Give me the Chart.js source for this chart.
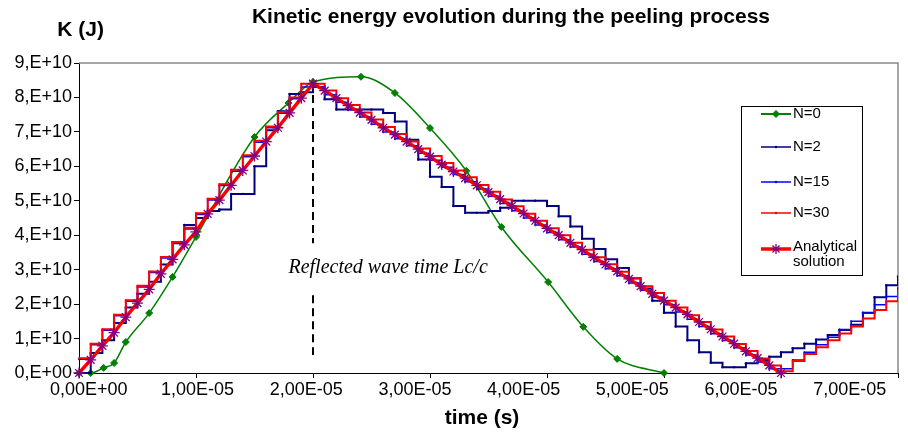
<!DOCTYPE html>
<html>
<head>
<meta charset="utf-8">
<script src="https://cdn.jsdelivr.net/npm/chart.js@4.4.1/dist/chart.umd.min.js"></script>
<style>
html,body{margin:0;padding:0;background:#fff;}
#wrap{width:908px;height:433px;position:relative;}
</style>
</head>
<body>
<div id="wrap"><canvas id="c" width="908" height="433"></canvas></div>
<script>
// ---- data (time in units of 1e-5 s, energy in units of 1e10 J) ----
const xTickValues = [0, 1, 2, 3, 4, 5, 6, 7];
const xTickLabels = ['0,00E+00', '1,00E-05', '2,00E-05', '3,00E-05', '4,00E-05', '5,00E-05', '6,00E-05', '7,00E-05'];
const yTickValues = [0, 1, 2, 3, 4, 5, 6, 7, 8, 9];
const yTickLabels = ['0,E+00', '1,E+10', '2,E+10', '3,E+10', '4,E+10', '5,E+10', '6,E+10', '7,E+10', '8,E+10', '9,E+10'];

const seriesNames = ['N=0', 'N=2', 'N=15', 'N=30', 'Analytical solution'];

// N=0 (smoothed, diamond markers)
const tN0 = [0, 0.1, 0.21, 0.3, 0.4, 0.6, 0.8, 1.0, 1.5, 1.79, 2.0, 2.41, 2.7, 3.0, 3.31, 3.61, 4.01, 4.31, 4.6, 5.0];
const kN0 = [0, 0, 0.15, 0.29, 0.9, 1.74, 2.79, 3.95, 6.85, 7.84, 8.45, 8.6, 8.13, 7.11, 5.87, 4.24, 2.64, 1.34, 0.41, 0];

// Stepped numerical results: level held from each time to the next
const tStep = [0, 0.1, 0.2, 0.3, 0.4, 0.5, 0.6, 0.7, 0.8, 0.9,
  1.0, 1.1, 1.2, 1.3, 1.4, 1.5, 1.6, 1.7, 1.8, 1.9,
  2.0, 2.1, 2.2, 2.3, 2.4, 2.5, 2.6, 2.7, 2.8, 2.9,
  3.0, 3.1, 3.2, 3.3, 3.4, 3.5, 3.6, 3.7, 3.8, 3.9,
  4.0, 4.1, 4.2, 4.3, 4.4, 4.5, 4.6, 4.7, 4.8, 4.9,
  5.0, 5.1, 5.2, 5.3, 5.4, 5.5, 5.6, 5.7, 5.8, 5.9,
  6.0, 6.1, 6.2, 6.3, 6.4, 6.5, 6.6, 6.7, 6.8, 6.9,
  7.0, 7.1];
const kN2 = [0, 0.58, 0.95, 1.45, 1.9, 2.3, 2.65, 3.15, 3.8, 4.3,
  4.5, 4.7, 4.75, 5.2, 5.2, 6.0, 7.05, 7.6, 8.1, 8.15,
  8.3, 7.95, 7.65, 7.65, 7.65, 7.65, 7.55, 7.3, 6.77, 6.2,
  5.7, 5.4, 4.85, 4.65, 4.65, 4.7, 4.8, 5.0, 5.0, 5.0,
  4.85, 4.55, 4.25, 3.9, 3.6, 3.3, 3.05, 2.75, 2.45, 2.1,
  1.75, 1.35, 0.95, 0.6, 0.3, 0.17, 0.17, 0.28, 0.38, 0.47,
  0.6, 0.72, 0.85, 0.97, 1.1, 1.25, 1.4, 1.75, 2.2, 2.55,
  2.8, 2.9];
const kN15 = [0.4, 0.82, 1.24, 1.66, 2.08, 2.5, 2.92, 3.34, 3.76, 4.18,
  4.6, 5.02, 5.44, 5.86, 6.28, 6.7, 7.12, 7.54, 7.96, 8.3,
  8.3, 8.08, 7.86, 7.64, 7.43, 7.22, 7.0, 6.8, 6.6, 6.38,
  6.18, 5.97, 5.76, 5.55, 5.34, 5.13, 4.92, 4.71, 4.5, 4.3,
  4.08, 3.87, 3.66, 3.45, 3.24, 3.03, 2.82, 2.61, 2.4, 2.2,
  1.98, 1.77, 1.56, 1.35, 1.14, 0.94, 0.73, 0.52, 0.32, 0.12,
  0.12, 0.38, 0.6, 0.82, 1.04, 1.26, 1.5, 1.74, 1.98, 2.22,
  2.47, 2.7];
const kN30 = [0.43, 0.85, 1.27, 1.69, 2.11, 2.53, 2.95, 3.37, 3.8, 4.22,
  4.64, 5.06, 5.48, 5.9, 6.32, 6.74, 7.16, 7.58, 8.0, 8.4,
  8.4, 8.2, 7.98, 7.78, 7.56, 7.36, 7.14, 6.94, 6.72, 6.52,
  6.3, 6.1, 5.88, 5.68, 5.46, 5.26, 5.04, 4.84, 4.62, 4.42,
  4.2, 4.0, 3.78, 3.58, 3.36, 3.16, 2.94, 2.74, 2.52, 2.32,
  2.1, 1.9, 1.68, 1.48, 1.26, 1.06, 0.84, 0.64, 0.42, 0.22,
  0.05, 0.35, 0.55, 0.75, 0.95, 1.15, 1.35, 1.58, 1.83, 2.08,
  2.35, 2.55];

// Analytical solution (asterisk markers)
const tAnalytic = [0, 0.1, 0.2, 0.3, 0.4, 0.5, 0.6, 0.7, 0.8, 0.9,
  1.0, 1.1, 1.2, 1.3, 1.4, 1.5, 1.6, 1.7, 1.8, 1.9,
  2.0, 2.1, 2.2, 2.3, 2.4, 2.5, 2.6, 2.7, 2.8, 2.9,
  3.0, 3.1, 3.2, 3.3, 3.4, 3.5, 3.6, 3.7, 3.8, 3.9,
  4.0, 4.1, 4.2, 4.3, 4.4, 4.5, 4.6, 4.7, 4.8, 4.9,
  5.0, 5.1, 5.2, 5.3, 5.4, 5.5, 5.6, 5.7, 5.8, 5.9,
  6.0];
const kAnalytic = [0, 0.38, 0.79, 1.17, 1.62, 2.03, 2.43, 2.88, 3.3, 3.72,
  4.1, 4.62, 5.02, 5.45, 5.88, 6.3, 6.72, 7.12, 7.55, 7.98,
  8.4, 8.2, 7.98, 7.76, 7.56, 7.35, 7.12, 6.92, 6.72, 6.5,
  6.28, 6.05, 5.85, 5.66, 5.45, 5.25, 5.05, 4.85, 4.63, 4.42,
  4.2, 4.0, 3.78, 3.58, 3.36, 3.15, 2.95, 2.73, 2.52, 2.3,
  2.1, 1.9, 1.7, 1.48, 1.27, 1.06, 0.85, 0.63, 0.43, 0.22,
  0];

// annotation (reflected wave time)
const reflectT = 2.0;
const reflectDashK = [[8.07, 3.77], [2.26, 0.52]];
const reflectText = 'Reflected wave time Lc/c';
const reflectTextT = 1.79;
const reflectTextK = 3.05;

const chartTitle = 'Kinetic energy evolution during the peeling process';
const yTitle = 'K (J)';
const xTitle = 'time (s)';

// ---- build ----
const pts = (ts, ks) => ts.map((t, i) => ({ x: t, y: ks[i] }));
const SANS = '"Liberation Sans", Arial, sans-serif';
const clipBox = { left: 10, top: 10, right: 0, bottom: 10 };

const colors = ['#008000', '#000080', '#0000FF', '#FF0000', '#FF0000'];

const datasets = [
  { label: seriesNames[0], data: pts(tN0, kN0), borderColor: colors[0], backgroundColor: colors[0],
    borderWidth: 1.5, cubicInterpolationMode: 'monotone', pointStyle: 'rectRot', pointRadius: 3.5,
    pointBorderWidth: 1, order: 4, clip: clipBox },
  { label: seriesNames[1], data: pts(tStep, kN2), borderColor: colors[1], backgroundColor: colors[1],
    borderWidth: 2, stepped: true, pointStyle: 'circle', pointRadius: 1.2, pointBorderWidth: 0, order: 3, clip: clipBox },
  { label: seriesNames[2], data: pts(tStep, kN15), borderColor: colors[2], backgroundColor: colors[2],
    borderWidth: 1.5, stepped: true, pointStyle: 'circle', pointRadius: 1, pointBorderWidth: 0, order: 2, clip: clipBox },
  { label: seriesNames[3], data: pts(tStep, kN30), borderColor: colors[3], backgroundColor: colors[3],
    borderWidth: 2, stepped: true, pointStyle: 'circle', pointRadius: 1, pointBorderWidth: 0, order: 1, clip: clipBox },
  { label: seriesNames[4], data: pts(tAnalytic, kAnalytic), borderColor: colors[4], backgroundColor: '#800080',
    borderWidth: 3.5, pointStyle: 'star', pointRadius: 5.5, pointBorderColor: '#800080', pointBorderWidth: 1.3,
    order: 0, clip: clipBox }
];
datasets.forEach(d => { d.xAxisID = 'x'; d.yAxisID = 'y'; d.tension = d.tension || (d.cubicInterpolationMode ? 0.4 : 0); });

function drawMarker(ctx, style, x, y, r, fill, stroke, lw) {
  ctx.save();
  ctx.fillStyle = fill; ctx.strokeStyle = stroke; ctx.lineWidth = lw;
  ctx.beginPath();
  if (style === 'rectRot') {
    ctx.moveTo(x, y - r); ctx.lineTo(x + r, y); ctx.lineTo(x, y + r); ctx.lineTo(x - r, y); ctx.closePath();
    ctx.fill(); ctx.stroke();
  } else if (style === 'star') {
    for (let a = 0; a < 4; a++) {
      const ang = a * Math.PI / 4;
      ctx.moveTo(x - r * Math.cos(ang), y - r * Math.sin(ang));
      ctx.lineTo(x + r * Math.cos(ang), y + r * Math.sin(ang));
    }
    ctx.stroke();
  } else {
    ctx.arc(x, y, r, 0, Math.PI * 2); ctx.fill();
  }
  ctx.restore();
}

const decor = {
  id: 'decor',
  beforeDatasetsDraw(chart) {
    const { ctx, chartArea: a, scales } = chart;
    const xs = scales.x, ys = scales.y;
    ctx.save();
    // plot-area frame (top & right)
    ctx.strokeStyle = '#8a8a8a'; ctx.lineWidth = 1.5;
    ctx.beginPath();
    ctx.moveTo(a.left, a.top); ctx.lineTo(a.right, a.top); ctx.lineTo(a.right, a.bottom);
    ctx.stroke();
    // dashed reflected-wave marker
    const px = Math.round(xs.getPixelForValue(reflectT));
    ctx.strokeStyle = '#000'; ctx.lineWidth = 2; ctx.setLineDash([8, 5]);
    reflectDashK.forEach(([k1, k2]) => {
      ctx.beginPath();
      ctx.moveTo(px, ys.getPixelForValue(k1));
      ctx.lineTo(px, ys.getPixelForValue(k2));
      ctx.stroke();
    });
    ctx.setLineDash([]);
    ctx.fillStyle = '#000';
    ctx.font = 'italic 20px "Liberation Serif", "Times New Roman", serif';
    ctx.textAlign = 'left'; ctx.textBaseline = 'middle';
    ctx.fillText(reflectText, xs.getPixelForValue(reflectTextT), ys.getPixelForValue(reflectTextK));
    ctx.restore();
  },
  afterDraw(chart) {
    const { ctx } = chart;
    ctx.save();
    ctx.fillStyle = '#000';
    ctx.textBaseline = 'middle';
    ctx.font = 'bold 21px ' + SANS;
    ctx.textAlign = 'center';
    ctx.fillText(chartTitle, 511, 17);
    ctx.fillText(xTitle, 482, 418);
    ctx.textAlign = 'right';
    ctx.fillText(yTitle, 104, 30);

    // legend
    const L = { left: 741, top: 106, right: 862, bottom: 275 };
    ctx.strokeStyle = '#000'; ctx.lineWidth = 1;
    ctx.strokeRect(L.left + 0.5, L.top + 0.5, L.right - L.left, L.bottom - L.top);
    const rows = [
      { y: 114, text: [[seriesNames[0], 114]] },
      { y: 147, text: [[seriesNames[1], 147]] },
      { y: 182, text: [[seriesNames[2], 182]] },
      { y: 213, text: [[seriesNames[3], 213]] },
      { y: 249, text: [['Analytical', 247], ['solution', 262]] }
    ];
    ctx.font = '15px ' + SANS;
    ctx.textAlign = 'left';
    rows.forEach((r, i) => {
      const d = chart.data.datasets[i];
      ctx.strokeStyle = d.borderColor;
      ctx.lineWidth = i === 4 ? 3.5 : (i === 0 ? 2 : 1.5);
      ctx.beginPath(); ctx.moveTo(761, r.y); ctx.lineTo(791, r.y); ctx.stroke();
      if (i === 0) drawMarker(ctx, 'rectRot', 776, r.y, 3.5, colors[0], colors[0], 1);
      else if (i === 4) drawMarker(ctx, 'star', 776, r.y, 5, '#800080', '#800080', 1.3);
      else drawMarker(ctx, 'circle', 776, r.y, 1.2, d.borderColor, d.borderColor, 1);
      ctx.fillStyle = '#000';
      r.text.forEach(([s, ty]) => ctx.fillText(s, 793, ty));
    });
    ctx.restore();
  }
};

new Chart(document.getElementById('c'), {
  type: 'line',
  data: { datasets },
  options: {
    responsive: false,
    animation: false,
    devicePixelRatio: 1,
    layout: { padding: { left: 0, top: 63, right: 10, bottom: 0 } },
    plugins: { legend: { display: false }, tooltip: { enabled: false }, title: { display: false } },
    scales: {
      x: {
        type: 'linear', position: 'bottom', min: 0, max: 7,
        afterBuildTicks: s => { s.ticks = xTickValues.map(v => ({ value: v })); },
        ticks: { display: false },
        grid: { display: true, drawOnChartArea: false, drawTicks: true, tickLength: 5, color: '#000', lineWidth: 1 },
        border: { display: true, color: '#000', width: 1 },
        afterFit: s => { s.height = 5; s.paddingLeft = 0; s.paddingRight = 0; }
      },
      xLabels: {
        type: 'linear', axis: 'x', position: 'bottom', min: -0.0902, max: 7.444,
        afterBuildTicks: s => { s.ticks = xTickValues.map(v => ({ value: v })); },
        ticks: {
          callback: v => xTickLabels[xTickValues.indexOf(v)],
          font: { family: SANS, size: 18 }, color: '#000', padding: 1,
          maxRotation: 0, minRotation: 0, autoSkip: false
        },
        grid: { display: false, drawTicks: false },
        border: { display: false },
        afterFit: s => { s.height = 55; s.paddingLeft = 0; s.paddingRight = 0; }
      },
      y: {
        type: 'linear', position: 'left', min: 0, max: 9,
        afterBuildTicks: s => { s.ticks = yTickValues.map(v => ({ value: v })); },
        ticks: {
          callback: v => yTickLabels[yTickValues.indexOf(v)],
          font: { family: SANS, size: 18 }, color: '#000', padding: 2, autoSkip: false
        },
        grid: { display: true, drawOnChartArea: false, drawTicks: true, tickLength: 5, color: '#000', lineWidth: 1 },
        border: { display: true, color: '#000', width: 1 },
        afterFit: s => { s.width = 79; s.paddingTop = 0; s.paddingBottom = 0; }
      }
    }
  },
  plugins: [decor]
});
</script>
</body>
</html>
